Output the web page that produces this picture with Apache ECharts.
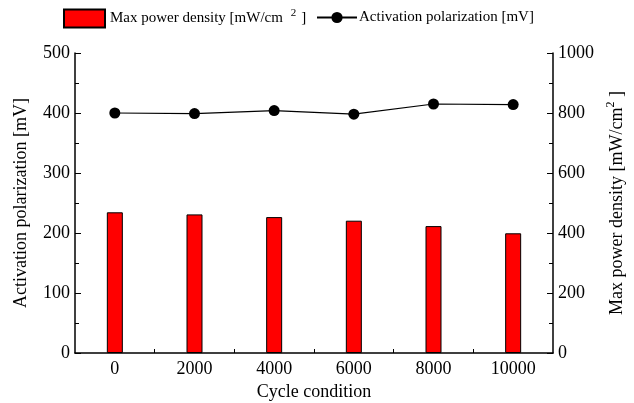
<!DOCTYPE html>
<html>
<head>
<meta charset="utf-8">
<script src="https://cdn.jsdelivr.net/npm/echarts@6/dist/echarts.min.js"></script>
<style>
html,body{margin:0;padding:0;background:#fff;}
#chart{width:634px;height:403px;}
</style>
</head>
<body>
<div id="chart"></div>
<script>
var cycles = [0, 2000, 4000, 6000, 8000, 10000];
var maxPowerDensity = [469, 462, 453, 441, 423, 399];
var activationPolarization = [400, 399, 404, 398, 415, 414];
var xTickLabels = ['0', '2000', '4000', '6000', '8000', '10000'];

var FONT = '"Liberation Serif", "Times New Roman", serif';

var chart = echarts.init(document.getElementById('chart'));
var barData = cycles.map(function (c, i) { return [c, maxPowerDensity[i]]; });
var lineData = cycles.map(function (c, i) { return [c, activationPolarization[i]]; });

chart.setOption({
  animation: false,
  backgroundColor: '#fff',
  textStyle: { fontFamily: FONT, color: '#000' },
  grid: { left: 75, right: 81, top: 53, bottom: 50, containLabel: false, outerBoundsMode: 'none' },
  legend: [{
    data: [{ name: 'Max power density', icon: 'rect' }],
    left: 63, top: 8, padding: 0,
    itemWidth: 41, itemHeight: 18, itemGap: 5,
    formatter: function () { return '{a|Max power density [mW/cm}{s|2}{a|]}'; },
    textStyle: {
      fontFamily: FONT, color: '#000', fontSize: 15,
      rich: {
        a: { fontFamily: FONT, fontSize: 15, color: '#000' },
        s: { fontFamily: FONT, fontSize: 11, color: '#000', padding: [0, 5, 10, 8] }
      }
    }
  }, {
    data: ['Activation polarization'],
    left: 316, top: 10, padding: 0,
    itemWidth: 40, itemHeight: 14, itemGap: 3,
    formatter: function () { return 'Activation polarization [mV]'; },
    textStyle: { fontFamily: FONT, color: '#000', fontSize: 15, padding: [0, 0, 0, -3] }
  }],
  xAxis: {
    type: 'value',
    min: -1000, max: 11000, interval: 1000,
    name: 'Cycle condition',
    nameLocation: 'middle', nameGap: 30,
    nameTextStyle: { fontFamily: FONT, fontSize: 18, color: '#000' },
    axisLine: { onZero: false, lineStyle: { color: '#000', width: 1.5 } },
    axisTick: { inside: true, length: 4, lineStyle: { color: '#000' } },
    splitLine: { show: false },
    axisLabel: {
      fontFamily: FONT, fontSize: 18, color: '#000', margin: 7,
      showMinLabel: false, showMaxLabel: false,
      formatter: function (v) {
        var idx = cycles.indexOf(v);
        return idx >= 0 ? xTickLabels[idx] : '';
      }
    }
  },
  yAxis: [{
    type: 'value', min: 0, max: 500, interval: 100,
    name: 'Activation polarization [mV]',
    nameLocation: 'middle', nameGap: 45, nameRotate: 90,
    nameTextStyle: { fontFamily: FONT, fontSize: 18, color: '#000' },
    axisLine: { show: true, onZero: false, lineStyle: { color: '#000', width: 1.5 } },
    axisTick: { inside: true, length: 6, lineStyle: { color: '#000' } },
    minorTick: { show: true, splitNumber: 2, length: 4, lineStyle: { color: '#000' } },
    splitLine: { show: false },
    axisLabel: { fontFamily: FONT, fontSize: 18, color: '#000', margin: 5 }
  }, {
    type: 'value', min: 0, max: 1000, interval: 200,
    position: 'right',
    name: '{a|Max power density [mW/cm}{s|2}{a| ]}',
    nameLocation: 'middle', nameGap: 52, nameRotate: 90,
    nameTextStyle: {
      fontFamily: FONT, fontSize: 18, color: '#000',
      rich: {
        a: { fontFamily: FONT, fontSize: 18, color: '#000' },
        s: { fontFamily: FONT, fontSize: 12, color: '#000', padding: [0, 0, 12, 0] }
      }
    },
    axisLine: { show: true, onZero: false, lineStyle: { color: '#000', width: 1.5 } },
    axisTick: { inside: true, length: 6, lineStyle: { color: '#000' } },
    minorTick: { show: true, splitNumber: 2, length: 4, lineStyle: { color: '#000' } },
    splitLine: { show: false },
    axisLabel: { fontFamily: FONT, fontSize: 18, color: '#000', margin: 5,
      formatter: function (v) { return String(v); } }
  }],
  series: [{
    name: 'Max power density',
    type: 'bar',
    xAxisIndex: 0, yAxisIndex: 1,
    barWidth: 16,
    data: barData,
    itemStyle: { color: '#ff0000', borderColor: '#000', borderWidth: 1 }
  }, {
    name: 'Activation polarization',
    type: 'line',
    xAxisIndex: 0, yAxisIndex: 0,
    data: lineData,
    symbol: 'circle', symbolSize: 11,
    itemStyle: { color: '#000' },
    lineStyle: { color: '#000', width: 1.2 }
  }]
});
</script>
</body>
</html>
